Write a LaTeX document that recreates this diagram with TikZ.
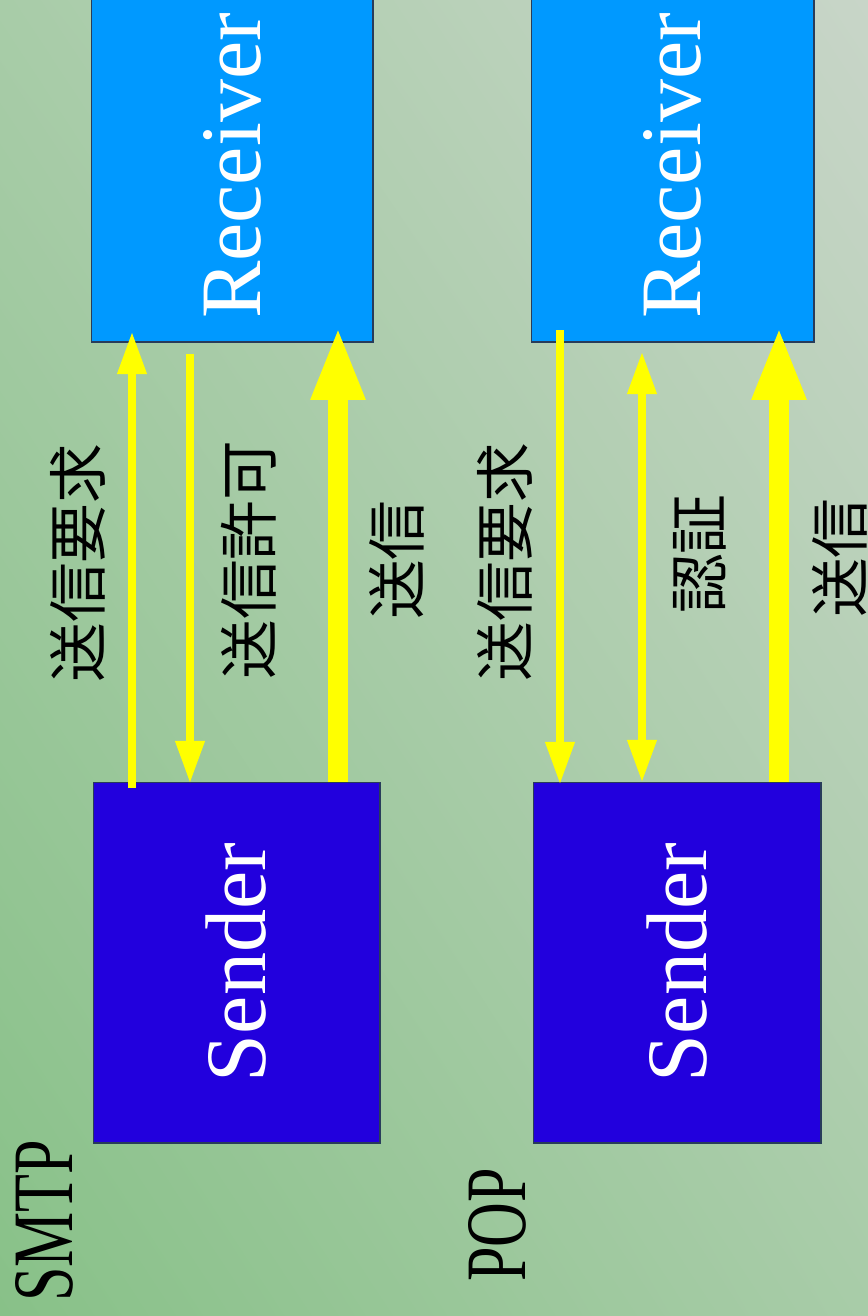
\documentclass[tikz,border=0pt]{standalone}
\usepackage{fontspec}
\setmainfont{Liberation Serif}
\newfontfamily\jpfont{Noto Sans CJK JP}
\newfontfamily\narrowfont[FakeStretch=0.72]{Liberation Serif}
\usepackage{tikz}
\usepackage{tkz-euclide}
\usetikzlibrary{arrows.meta,shadings}

\definecolor{bggreen}{RGB}{136,193,136}
\definecolor{bgmid}{RGB}{168,204,168}
\definecolor{bgpale}{RGB}{200,213,200}
\definecolor{recvblue}{RGB}{0,153,255}
\definecolor{sendblue}{RGB}{34,0,221}
\definecolor{boxline}{RGB}{40,60,90}
\definecolor{arrowyellow}{RGB}{255,255,0}

\tikzset{
  recvbox/.style={draw=boxline, line width=0.6pt, fill=recvblue, text=white,
    rotate=90, inner sep=0pt, outer sep=0pt,
    font=\fontsize{49}{56}\selectfont},
  sendbox/.style={draw=boxline, line width=0.6pt, fill=sendblue, text=white,
    rotate=90, inner sep=0pt, outer sep=0pt,
    font=\fontsize{49}{56}\selectfont},
  jplabel/.style={rotate=90, inner sep=0pt, font=\jpfont\fontsize{34}{40}\selectfont},
  protolabel/.style={rotate=90, inner sep=0pt, anchor=base,
    font=\narrowfont\fontsize{49}{56}\selectfont},
  thinarrow/.style={draw=arrowyellow, line width=4pt, line cap=butt,
    -{Triangle[width=16pt,length=24pt]}},
  botharrow/.style={draw=arrowyellow, line width=4pt, line cap=butt,
    {Triangle[width=16pt,length=24pt]}-{Triangle[width=16pt,length=24pt]}},
  thickarrow/.style={draw=arrowyellow, line width=11.3pt, line cap=butt,
    -{Triangle[width=28pt,length=42pt]}}
}

\begin{document}
\begin{tikzpicture}[x=0.02cm,y=-0.02cm]

    \useasboundingbox (0,0) rectangle (868,1316);
    \clip (0,0) rectangle (868,1316);
    \shade[upper left=bgmid, upper right=bgpale, lower left=bggreen, lower right=bgmid]
      (0,0) rectangle (868,1316);

    % SMTP
    \node[recvbox, minimum width=7.04cm, minimum height=5.64cm] (smtprecv) at (232,166) {Receiver};
    \node[sendbox, minimum width=7.22cm, minimum height=5.74cm] (smtpsend) at (236.5,962.5) {Sender};
    \node[protolabel] (smtp) at (72,1221) {SMTP};

    % POP
    \node[recvbox, minimum width=7.04cm, minimum height=5.66cm] (poprecv) at (672.5,166) {Receiver};
    \node[sendbox, minimum width=7.22cm, minimum height=5.76cm] (popsend) at (677,962.5) {Sender};
    \node[protolabel] (pop) at (525,1225) {POP};

    \tkzDefPoints{132/788/S1, 132/332/R1, 190/354/R2, 190/783/S2, 338/782/S3, 338/326/R3}
    \tkzDefPoints{560/330/R4, 560/784/S4, 642/352/R5, 642/782/S5, 779/782/S6, 779/326/R6}

    \tkzDrawSegment[thinarrow](S1,R1)
    \tkzDrawSegment[thinarrow](R2,S2)
    \tkzDrawSegment[thickarrow](S3,R3)

    \tkzDrawSegment[thinarrow](R4,S4)
    \tkzDrawSegment[botharrow](R5,S5)
    \tkzDrawSegment[thickarrow](S6,R6)

    \node[jplabel] (smtpreq) at (78,563) {送信要求};
    \node[jplabel] (smtpok) at (249,560) {送信許可};
    \node[jplabel] (smtpsnd) at (397,560) {送信};

    \node[jplabel] (popreq) at (505,562) {送信要求};
    \node[jplabel] (popauth) at (700,554) {認証};
    \node[jplabel] (popsnd) at (840,558) {送信};

\end{tikzpicture}
\end{document}
